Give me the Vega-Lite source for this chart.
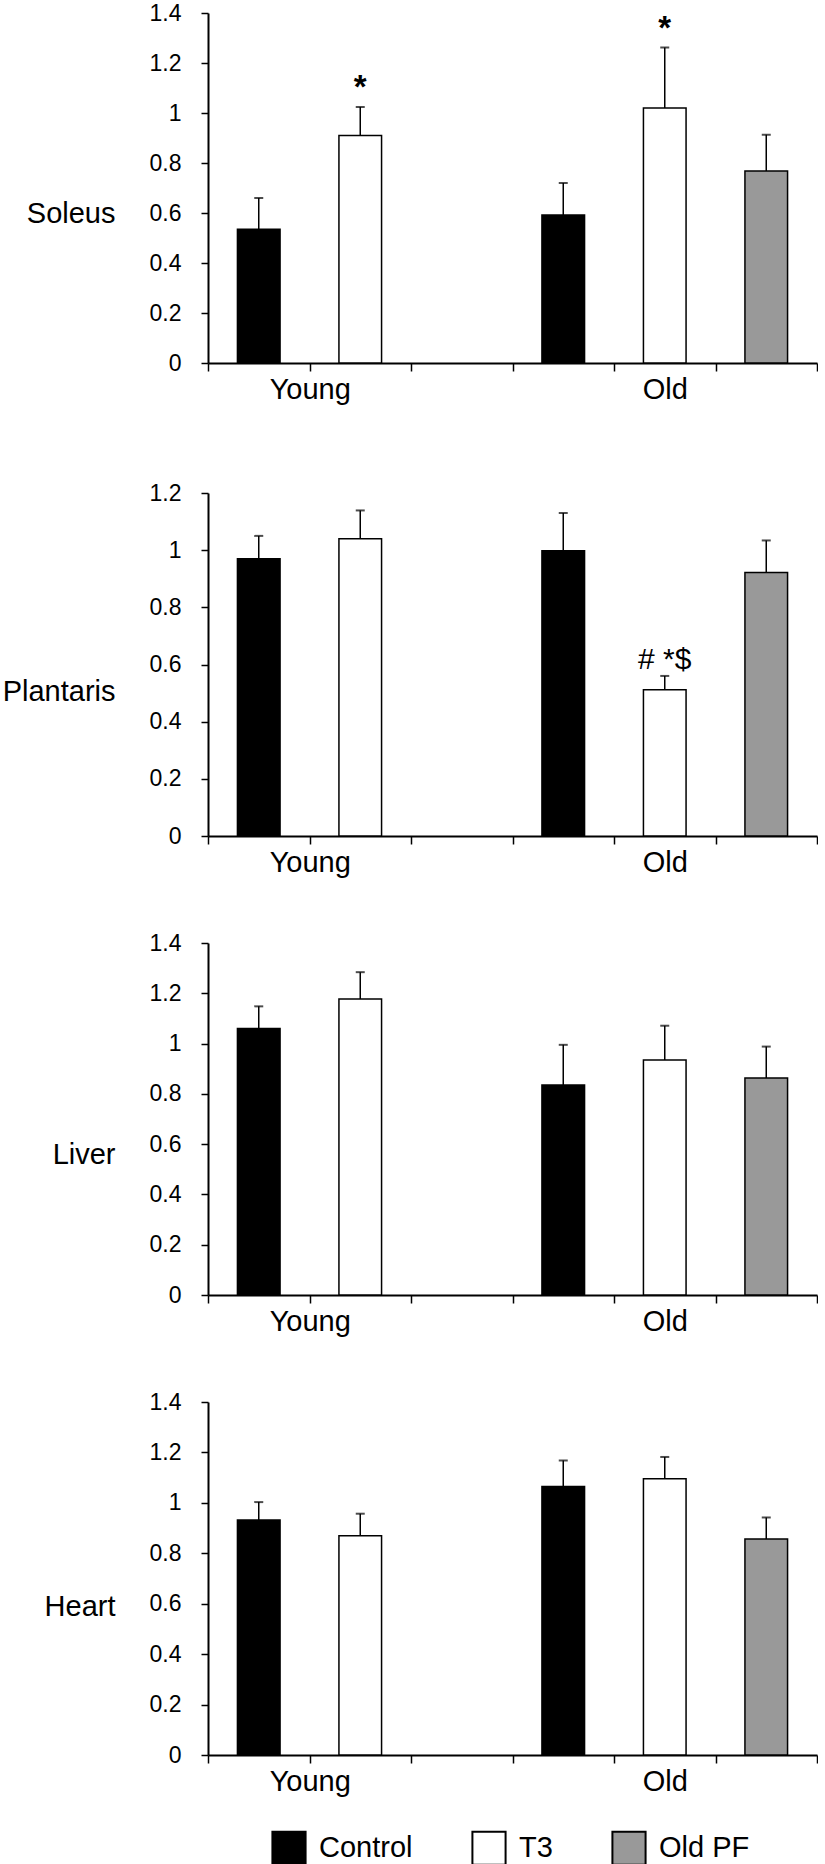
{
  "$schema": "https://vega.github.io/schema/vega-lite/v6.json",
  "padding": {"left": 2, "top": 2, "right": 0, "bottom": 0},
  "autosize": {"type": "pad"},
  "config": {
    "font": "Liberation Sans",
    "view": {"stroke": null},
    "axis": {"grid": false, "labelColor": "black", "titleColor": "black", "domainColor": "black", "tickColor": "black"},
    "axisY": {"format": ".1~f", "labelFontSize": 23, "labelPadding": 20, "tickSize": 7, "tickWidth": 1.5, "domainWidth": 2,
      "titleAngle": 0, "titleAlign": "right", "titleBaseline": "middle", "titleX": -93, "titleFontSize": 29, "titleFontWeight": "normal"},
    "axisX": {"title": null, "tickBand": "extent", "labelAngle": 0, "labelOverlap": false, "labelFontSize": 29, "labelPadding": 4, "tickSize": 8, "tickWidth": 1.5, "domainWidth": 2},
    "legend": {
      "orient": "none", "legendX": 63, "legendY": 1817, "direction": "horizontal",
      "symbolType": "square", "symbolSize": 1100, "symbolStrokeColor": "black", "symbolStrokeWidth": 2,
      "labelFontSize": 29, "labelOffset": 12, "columnPadding": 55, "labelColor": "black", "labelLimit": 300
    }
  },
  "datasets": {
    "d": [
      {"muscle": "Soleus", "bar": "Young Control", "treatment": "Control", "mean": 0.535, "upper": 0.66, "sig": ""},
      {"muscle": "Soleus", "bar": "Young T3", "treatment": "T3", "mean": 0.91, "upper": 1.024, "sig": "*"},
      {"muscle": "Soleus", "bar": "Old Control", "treatment": "Control", "mean": 0.592, "upper": 0.72, "sig": ""},
      {"muscle": "Soleus", "bar": "Old T3", "treatment": "T3", "mean": 1.02, "upper": 1.262, "sig": "*"},
      {"muscle": "Soleus", "bar": "Old PF", "treatment": "Old PF", "mean": 0.768, "upper": 0.913, "sig": ""},
      {"muscle": "Plantaris", "bar": "Young Control", "treatment": "Control", "mean": 0.97, "upper": 1.05, "sig": ""},
      {"muscle": "Plantaris", "bar": "Young T3", "treatment": "T3", "mean": 1.04, "upper": 1.139, "sig": ""},
      {"muscle": "Plantaris", "bar": "Old Control", "treatment": "Control", "mean": 0.998, "upper": 1.13, "sig": ""},
      {"muscle": "Plantaris", "bar": "Old T3", "treatment": "T3", "mean": 0.512, "upper": 0.56, "sig": "# *$"},
      {"muscle": "Plantaris", "bar": "Old PF", "treatment": "Old PF", "mean": 0.922, "upper": 1.034, "sig": ""},
      {"muscle": "Liver", "bar": "Young Control", "treatment": "Control", "mean": 1.06, "upper": 1.148, "sig": ""},
      {"muscle": "Liver", "bar": "Young T3", "treatment": "T3", "mean": 1.177, "upper": 1.284, "sig": ""},
      {"muscle": "Liver", "bar": "Old Control", "treatment": "Control", "mean": 0.835, "upper": 0.995, "sig": ""},
      {"muscle": "Liver", "bar": "Old T3", "treatment": "T3", "mean": 0.935, "upper": 1.071, "sig": ""},
      {"muscle": "Liver", "bar": "Old PF", "treatment": "Old PF", "mean": 0.863, "upper": 0.988, "sig": ""},
      {"muscle": "Heart", "bar": "Young Control", "treatment": "Control", "mean": 0.932, "upper": 1.003, "sig": ""},
      {"muscle": "Heart", "bar": "Young T3", "treatment": "T3", "mean": 0.87, "upper": 0.957, "sig": ""},
      {"muscle": "Heart", "bar": "Old Control", "treatment": "Control", "mean": 1.065, "upper": 1.168, "sig": ""},
      {"muscle": "Heart", "bar": "Old T3", "treatment": "T3", "mean": 1.096, "upper": 1.182, "sig": ""},
      {"muscle": "Heart", "bar": "Old PF", "treatment": "Old PF", "mean": 0.857, "upper": 0.942, "sig": ""}
    ]
  },
  "spacing": 75,
  "vconcat": [
    {
      "width": 609, "height": 350,
      "data": {"name": "d"},
      "transform": [{"filter": "datum.muscle == 'Soleus'"}],
      "encoding": {
        "x": {"field": "bar", "type": "nominal",
          "scale": {"domain": ["Young Control", "Young T3", "gap", "Old Control", "Old T3", "Old PF"], "paddingInner": 0, "paddingOuter": 0},
          "axis": {"labelExpr": "datum.value == 'Young Control' ? 'Young' : datum.value == 'Old T3' ? 'Old' : ''",
            "labelOffset": {"condition": {"test": "datum.value == 'Young Control'", "value": 51}, "value": 0}}}
      },
      "layer": [
        {"mark": {"type": "bar", "width": {"band": 0.42}, "stroke": "black", "strokeWidth": 1.5},
          "encoding": {
            "y": {"field": "mean", "type": "quantitative", "scale": {"domain": [0, 1.4]},
              "axis": {"values": [0, 0.2, 0.4, 0.6, 0.8, 1, 1.2, 1.4], "title": "Soleus", "titleY": 200}},
            "color": {"field": "treatment", "type": "nominal", "scale": {"domain": ["Control", "T3", "Old PF"], "range": ["#000000", "#ffffff", "#999999"]}, "legend": {"title": null}}
          }},
        {"mark": {"type": "rule", "color": "black", "strokeWidth": 1.5},
          "encoding": {"y": {"field": "mean", "type": "quantitative", "axis": {"values": [0, 0.2, 0.4, 0.6, 0.8, 1, 1.2, 1.4], "title": "Soleus", "titleY": 200}}, "y2": {"field": "upper"}}},
        {"mark": {"type": "tick", "color": "black", "thickness": 2, "size": 9},
          "encoding": {"y": {"field": "upper", "type": "quantitative", "axis": {"values": [0, 0.2, 0.4, 0.6, 0.8, 1, 1.2, 1.4], "title": "Soleus", "titleY": 200}}}},
        {"mark": {"type": "text", "fontSize": 33, "fontWeight": "bold", "baseline": "alphabetic", "dy": -9, "color": "black"},
          "encoding": {"y": {"field": "upper", "type": "quantitative", "axis": {"values": [0, 0.2, 0.4, 0.6, 0.8, 1, 1.2, 1.4], "title": "Soleus", "titleY": 200}}, "text": {"field": "sig"}}}
      ]
    },
    {
      "spacing": 55,
      "vconcat": [
        {
          "width": 609, "height": 343,
          "data": {"name": "d"},
          "transform": [{"filter": "datum.muscle == 'Plantaris'"}],
          "encoding": {
            "x": {"field": "bar", "type": "nominal",
              "scale": {"domain": ["Young Control", "Young T3", "gap", "Old Control", "Old T3", "Old PF"], "paddingInner": 0, "paddingOuter": 0},
              "axis": {"labelExpr": "datum.value == 'Young Control' ? 'Young' : datum.value == 'Old T3' ? 'Old' : ''",
                "labelOffset": {"condition": {"test": "datum.value == 'Young Control'", "value": 51}, "value": 0}}}
          },
          "layer": [
            {"mark": {"type": "bar", "width": {"band": 0.42}, "stroke": "black", "strokeWidth": 1.5},
              "encoding": {
                "y": {"field": "mean", "type": "quantitative", "scale": {"domain": [0, 1.2]},
                  "axis": {"values": [0, 0.2, 0.4, 0.6, 0.8, 1, 1.2], "title": "Plantaris", "titleY": 198}},
                "color": {"field": "treatment", "type": "nominal", "scale": {"domain": ["Control", "T3", "Old PF"], "range": ["#000000", "#ffffff", "#999999"]}, "legend": {"title": null}}
              }},
            {"mark": {"type": "rule", "color": "black", "strokeWidth": 1.5},
              "encoding": {"y": {"field": "mean", "type": "quantitative", "axis": {"values": [0, 0.2, 0.4, 0.6, 0.8, 1, 1.2], "title": "Plantaris", "titleY": 198}}, "y2": {"field": "upper"}}},
            {"mark": {"type": "tick", "color": "black", "thickness": 2, "size": 9},
              "encoding": {"y": {"field": "upper", "type": "quantitative", "axis": {"values": [0, 0.2, 0.4, 0.6, 0.8, 1, 1.2], "title": "Plantaris", "titleY": 198}}}},
            {"mark": {"type": "text", "fontSize": 30, "baseline": "alphabetic", "dy": -7, "color": "black"},
              "encoding": {"y": {"field": "upper", "type": "quantitative", "axis": {"values": [0, 0.2, 0.4, 0.6, 0.8, 1, 1.2], "title": "Plantaris", "titleY": 198}}, "text": {"field": "sig"}}}
          ]
        },
        {
          "width": 609, "height": 352,
          "data": {"name": "d"},
          "transform": [{"filter": "datum.muscle == 'Liver'"}],
          "encoding": {
            "x": {"field": "bar", "type": "nominal",
              "scale": {"domain": ["Young Control", "Young T3", "gap", "Old Control", "Old T3", "Old PF"], "paddingInner": 0, "paddingOuter": 0},
              "axis": {"labelExpr": "datum.value == 'Young Control' ? 'Young' : datum.value == 'Old T3' ? 'Old' : ''",
                "labelOffset": {"condition": {"test": "datum.value == 'Young Control'", "value": 51}, "value": 0}}}
          },
          "layer": [
            {"mark": {"type": "bar", "width": {"band": 0.42}, "stroke": "black", "strokeWidth": 1.5},
              "encoding": {
                "y": {"field": "mean", "type": "quantitative", "scale": {"domain": [0, 1.4]},
                  "axis": {"values": [0, 0.2, 0.4, 0.6, 0.8, 1, 1.2, 1.4], "title": "Liver", "titleY": 211}},
                "color": {"field": "treatment", "type": "nominal", "scale": {"domain": ["Control", "T3", "Old PF"], "range": ["#000000", "#ffffff", "#999999"]}, "legend": {"title": null}}
              }},
            {"mark": {"type": "rule", "color": "black", "strokeWidth": 1.5},
              "encoding": {"y": {"field": "mean", "type": "quantitative", "axis": {"values": [0, 0.2, 0.4, 0.6, 0.8, 1, 1.2, 1.4], "title": "Liver", "titleY": 211}}, "y2": {"field": "upper"}}},
            {"mark": {"type": "tick", "color": "black", "thickness": 2, "size": 9},
              "encoding": {"y": {"field": "upper", "type": "quantitative", "axis": {"values": [0, 0.2, 0.4, 0.6, 0.8, 1, 1.2, 1.4], "title": "Liver", "titleY": 211}}}}
          ]
        },
        {
          "width": 609, "height": 353,
          "data": {"name": "d"},
          "transform": [{"filter": "datum.muscle == 'Heart'"}],
          "encoding": {
            "x": {"field": "bar", "type": "nominal",
              "scale": {"domain": ["Young Control", "Young T3", "gap", "Old Control", "Old T3", "Old PF"], "paddingInner": 0, "paddingOuter": 0},
              "axis": {"labelExpr": "datum.value == 'Young Control' ? 'Young' : datum.value == 'Old T3' ? 'Old' : ''",
                "labelOffset": {"condition": {"test": "datum.value == 'Young Control'", "value": 51}, "value": 0}}}
          },
          "layer": [
            {"mark": {"type": "bar", "width": {"band": 0.42}, "stroke": "black", "strokeWidth": 1.5},
              "encoding": {
                "y": {"field": "mean", "type": "quantitative", "scale": {"domain": [0, 1.4]},
                  "axis": {"values": [0, 0.2, 0.4, 0.6, 0.8, 1, 1.2, 1.4], "title": "Heart", "titleY": 204}},
                "color": {"field": "treatment", "type": "nominal", "scale": {"domain": ["Control", "T3", "Old PF"], "range": ["#000000", "#ffffff", "#999999"]}, "legend": {"title": null}}
              }},
            {"mark": {"type": "rule", "color": "black", "strokeWidth": 1.5},
              "encoding": {"y": {"field": "mean", "type": "quantitative", "axis": {"values": [0, 0.2, 0.4, 0.6, 0.8, 1, 1.2, 1.4], "title": "Heart", "titleY": 204}}, "y2": {"field": "upper"}}},
            {"mark": {"type": "tick", "color": "black", "thickness": 2, "size": 9},
              "encoding": {"y": {"field": "upper", "type": "quantitative", "axis": {"values": [0, 0.2, 0.4, 0.6, 0.8, 1, 1.2, 1.4], "title": "Heart", "titleY": 204}}}}
          ]
        }
      ]
    }
  ]
}
